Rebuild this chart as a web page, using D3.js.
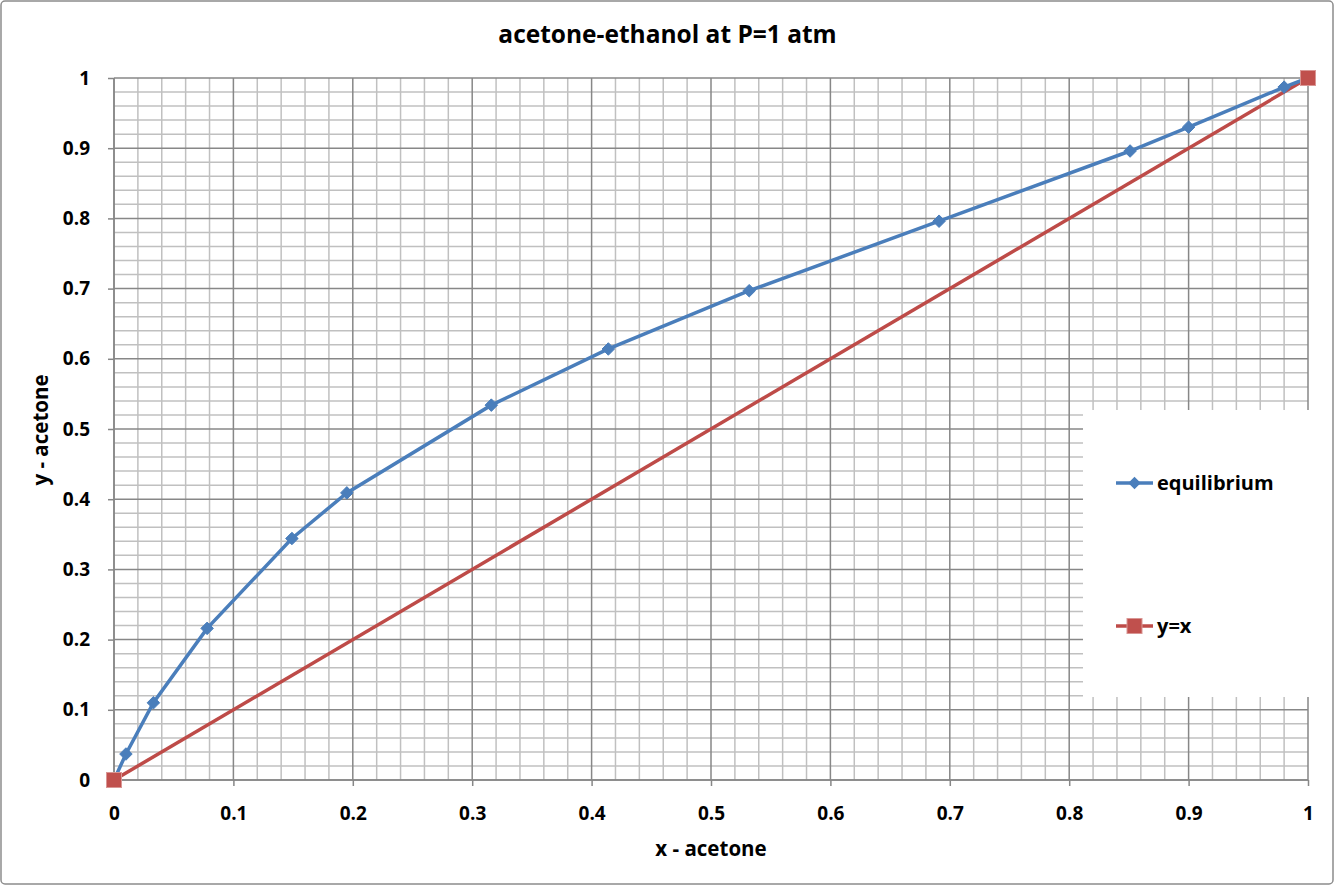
<!DOCTYPE html>
<html><head><meta charset="utf-8">
<script src="https://cdn.jsdelivr.net/npm/d3@7"></script>
<style>body{margin:0;background:#fff}svg{display:block}text{font-family:"Open Sans",sans-serif;font-weight:bold;fill:#000}</style>
</head><body>
<svg id="c" width="1335" height="886"></svg>
<script>
const title = "acetone-ethanol at P=1 atm";
const xTitle = "x - acetone";
const yTitle = "y - acetone";
const eqX = [0, 0.010, 0.033, 0.078, 0.149, 0.195, 0.316, 0.414, 0.532, 0.691, 0.851, 0.900, 0.980, 1];
const eqY = [0, 0.037, 0.110, 0.216, 0.344, 0.409, 0.534, 0.614, 0.697, 0.796, 0.896, 0.930, 0.987, 1];
const diagX = [0, 1];
const diagY = [0, 1];
const tickVals = [0,0.1,0.2,0.3,0.4,0.5,0.6,0.7,0.8,0.9,1];
const tickLabels = ["0","0.1","0.2","0.3","0.4","0.5","0.6","0.7","0.8","0.9","1"];
const seriesNames = ["equilibrium","y=x"];

const svg = d3.select("#c");
const L=114, R=1308, T=78, B=780;
const x = d3.scaleLinear().domain([0,1]).range([L,R]);
const y = d3.scaleLinear().domain([0,1]).range([B,T]);

svg.append("rect").attr("x",1).attr("y",1).attr("width",1332).attr("height",883).attr("rx",4)
  .attr("fill","#fff").attr("stroke","#8c8c8c").attr("stroke-width",1.5);

const minor = d3.range(0,101,2).map(d=>d/100).filter(d=>Math.round(d*100)%10!==0);
const g = svg.append("g");
g.selectAll(".mx").data(minor).join("line").attr("x1",d=>x(d)).attr("x2",d=>x(d)).attr("y1",T).attr("y2",B).attr("stroke","#c0c0c0").attr("stroke-width",1.5);
g.selectAll(".my").data(minor).join("line").attr("y1",d=>y(d)).attr("y2",d=>y(d)).attr("x1",L).attr("x2",R).attr("stroke","#c0c0c0").attr("stroke-width",1.5);
g.selectAll(".Mx").data(tickVals).join("line").attr("x1",d=>x(d)).attr("x2",d=>x(d)).attr("y1",T).attr("y2",B).attr("stroke","#878787").attr("stroke-width",1.5);
g.selectAll(".My").data(tickVals).join("line").attr("y1",d=>y(d)).attr("y2",d=>y(d)).attr("x1",L).attr("x2",R).attr("stroke","#878787").attr("stroke-width",1.5);

// legend background (covers grid)
svg.append("rect").attr("x",1083).attr("y",410).attr("width",247).attr("height",287).attr("fill","#fff");

const xAxis = d3.axisBottom(x).tickValues(tickVals).tickFormat((d,i)=>tickLabels[i]).tickSize(6).tickPadding(21);
const yAxis = d3.axisLeft(y).tickValues(tickVals).tickFormat((d,i)=>tickLabels[i]).tickSize(6).tickPadding(18);
const xa = svg.append("g").attr("transform",`translate(0,${B})`).call(xAxis);
const ya = svg.append("g").attr("transform",`translate(${L},0)`).call(yAxis);
[xa,ya].forEach(a=>{a.selectAll("path,line").attr("stroke","#878787").attr("stroke-width",1.5);
  a.selectAll("text").style("font-size","19px").style("font-family","'Open Sans',sans-serif").style("font-weight","bold").attr("fill","#000");});
xa.select(".domain").attr("d",`M${L},0H${R}`);
ya.select(".domain").attr("d",`M0,${B}V${T}`);
xa.selectAll("text").attr("dy",null);
xa.selectAll("text").attr("dy","0.71em");

const line = d3.line().x(d=>x(d[0])).y(d=>y(d[1]));
const eq = eqX.map((v,i)=>[v,eqY[i]]);
const dg = diagX.map((v,i)=>[v,diagY[i]]);
svg.append("path").datum(dg).attr("d",line).attr("fill","none").attr("stroke","#be4b48").attr("stroke-width",3.5);
svg.append("path").datum(eq).attr("d",line).attr("fill","none").attr("stroke","#4a7ebb").attr("stroke-width",3.5);

const diamond = d3.symbol().type(d3.symbolDiamond2).size(100);
svg.selectAll(".dm").data(eq.slice(1,-1)).join("path").attr("d",diamond)
  .attr("transform",d=>`translate(${x(d[0])},${y(d[1])})`).attr("fill","#4a7ebb").attr("stroke","#4a7ebb").attr("stroke-width",1);
svg.selectAll(".sq").data(dg).join("rect").attr("x",d=>x(d[0])-7.5).attr("y",d=>y(d[1])-7.5).attr("width",15).attr("height",15)
  .attr("fill","#c0504d").attr("stroke","#d99694").attr("stroke-width",1);

svg.append("text").attr("x",667.5).attr("y",43).attr("text-anchor","middle").style("font-size","24.5px").text(title);
svg.append("text").attr("x",711).attr("y",856).attr("text-anchor","middle").style("font-size","20.5px").text(xTitle);
svg.append("text").attr("transform","translate(48,430) rotate(-90)").attr("text-anchor","middle").style("font-size","20.5px").text(yTitle);

// legend entries
const ly = [483, 626];
seriesNames.forEach((n,i)=>{
  const c = i===0?"#4a7ebb":"#be4b48";
  svg.append("line").attr("x1",1116).attr("x2",1153).attr("y1",ly[i]).attr("y2",ly[i]).attr("stroke",c).attr("stroke-width",3.5);
  if(i===0) svg.append("path").attr("d",diamond).attr("transform",`translate(1134.5,${ly[i]})`).attr("fill",c);
  else svg.append("rect").attr("x",1127).attr("y",ly[i]-7.5).attr("width",15).attr("height",15).attr("fill","#c0504d").attr("stroke","#d99694");
  svg.append("text").attr("x",1157).attr("y",ly[i]+7).style("font-size","20px").text(n);
});
</script>
</body></html>
